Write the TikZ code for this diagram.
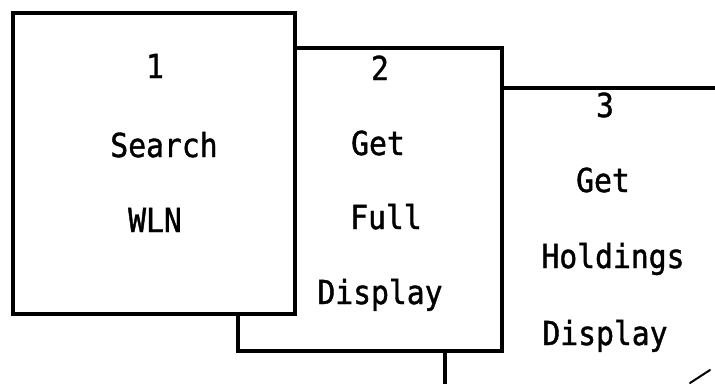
\documentclass[tikz,border=0pt]{standalone}
\usepackage{fontspec}
\newfontfamily\typefont[FakeStretch=0.9,FakeBold=1.2]{DejaVu Sans Mono}
\begin{document}
\begin{tikzpicture}[x=1pt,y=-1pt,
  box/.style={draw,line width=3.2pt,fill=white,inner sep=0pt,outer sep=0pt,anchor=north west},
  lbl/.style={font=\typefont\fontsize{33}{40}\selectfont,inner sep=0pt,anchor=base}]
\useasboundingbox (0,0) rectangle (715,383);
\clip (0,0) rectangle (715,383);
% boxes, back to front
\node[box,minimum width=400pt,minimum height=400pt] (b3) at (445,88) {};
\node[box,minimum width=264pt,minimum height=303pt] (b2) at (238,48) {};
\node[box,minimum width=282pt,minimum height=301pt] (b1) at (13,13) {};
% box 1 texts
\node[lbl] (n1) at (155,78) {1};
\node[lbl] (s1) at (164,157) {Search};
\node[lbl] (w1) at (155,232) {WLN};
% box 2 texts
\node[lbl] (n2) at (380,80) {2};
\node[lbl] (g2) at (378,155) {Get};
\node[lbl] (f2) at (386,229) {Full};
\node[lbl] (d2) at (380,304) {Display};
% box 3 texts
\node[lbl] (n3) at (605,117) {3};
\node[lbl] (g3) at (603,192) {Get};
\node[lbl] (h3) at (613,268) {Holdings};
\node[lbl] (d3) at (605,345) {Display};
% stray stroke at bottom right
\coordinate (m1) at (690,383);
\coordinate (m2) at (710,370);
\draw[line width=2pt,line cap=round] (m1) -- (m2);
\end{tikzpicture}
\end{document}
